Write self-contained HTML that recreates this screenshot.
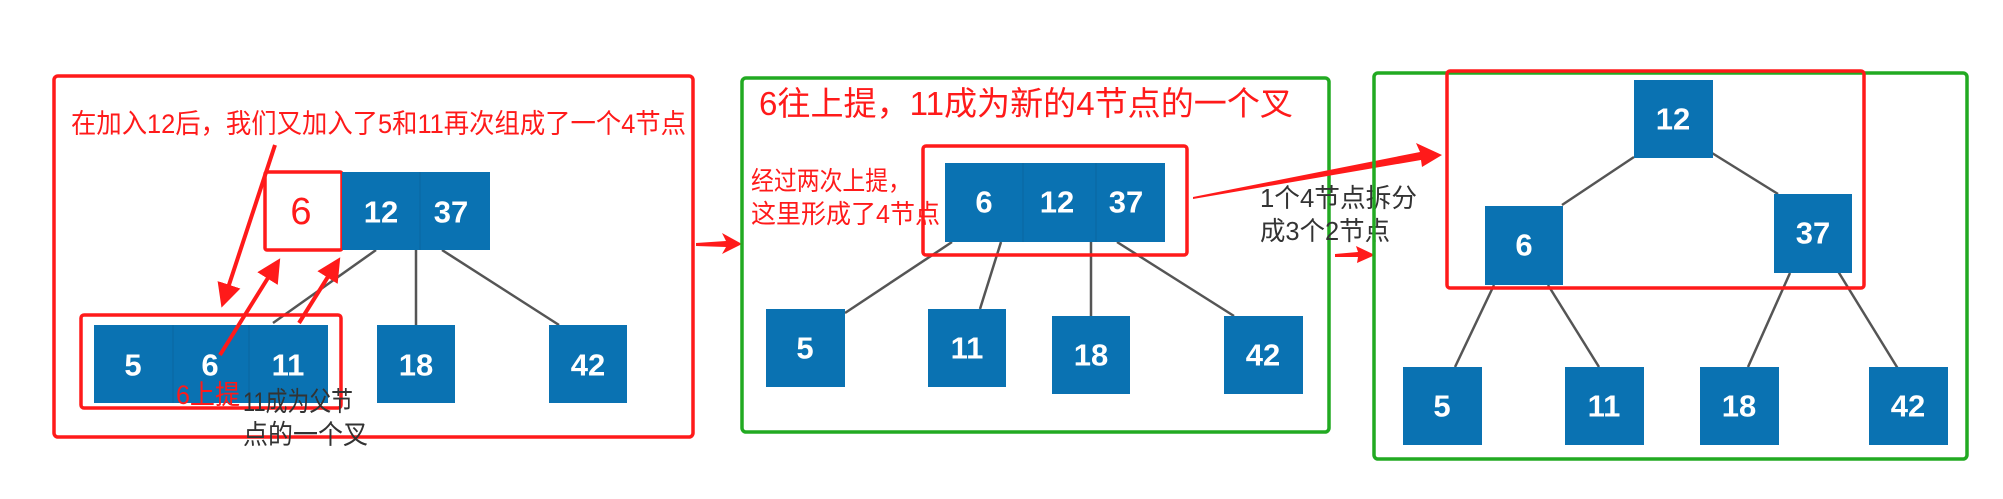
<!DOCTYPE html>
<html><head><meta charset="utf-8"><style>
html,body{margin:0;padding:0;background:#fff;}
svg{display:block;}
.n{fill:#0a72b2;}
.t{fill:#fff;font-family:"Liberation Sans",sans-serif;font-weight:bold;font-size:31px;text-anchor:middle;dominant-baseline:central;}
.ln{stroke:#555;stroke-width:2.5;fill:none;}
.cr{font-family:"Liberation Sans","Noto Sans CJK SC",sans-serif;fill:#ff1a1a;}
.cg{font-family:"Liberation Sans","Noto Sans CJK SC",sans-serif;fill:#333;}
</style></head><body>
<svg width="2003" height="499" viewBox="0 0 2003 499" xmlns="http://www.w3.org/2000/svg">
<defs><marker id="ah" markerWidth="6" markerHeight="6" refX="4" refY="3" orient="auto"><path d="M0,0 L6,3 L0,6 Z" fill="#ff1a1a"/></marker></defs>

<!-- Panel 1 -->
<rect x="54" y="76" width="639" height="361" rx="4" fill="none" stroke="#ff1a1a" stroke-width="3.5"/>
<text class="cr" x="71" y="133" font-size="27" textLength="615" lengthAdjust="spacingAndGlyphs">在加入12后，我们又加入了5和11再次组成了一个4节点</text>
<line class="ln" x1="376" y1="250" x2="273" y2="323"/>
<line class="ln" x1="416" y1="250" x2="416" y2="325"/>
<line class="ln" x1="442" y1="250" x2="559" y2="325"/>
<rect x="265" y="172" width="77" height="78" fill="#fff" stroke="#ff1a1a" stroke-width="3.5" rx="2"/>
<text x="301" y="212" font-family="Liberation Sans,sans-serif" font-size="38" fill="#ff1a1a" text-anchor="middle" dominant-baseline="central">6</text>
<rect class="n" x="342" y="172" width="148" height="78"/>
<line x1="420" y1="172" x2="420" y2="250" stroke="#0a66a0" stroke-width="1"/>
<text class="t" x="381" y="212">12</text><text class="t" x="451" y="212">37</text>
<rect class="n" x="94" y="325" width="234" height="78"/>
<line x1="173" y1="325" x2="173" y2="403" stroke="#0a66a0"/><line x1="249" y1="325" x2="249" y2="403" stroke="#0a66a0"/>
<text class="t" x="133" y="365">5</text><text class="t" x="210" y="365">6</text><text class="t" x="288" y="365">11</text>
<rect x="81" y="315" width="260" height="93" rx="3" fill="none" stroke="#ff1a1a" stroke-width="3.5"/>
<rect class="n" x="377" y="325" width="78" height="78"/><text class="t" x="416" y="365">18</text>
<rect class="n" x="549" y="325" width="78" height="78"/><text class="t" x="588" y="365">42</text>
<line x1="275" y1="145" x2="224" y2="300" stroke="#ff1a1a" stroke-width="4" marker-end="url(#ah)"/>
<line x1="220" y1="355" x2="276" y2="265" stroke="#ff1a1a" stroke-width="4" marker-end="url(#ah)"/>
<line x1="299" y1="323" x2="336" y2="264" stroke="#ff1a1a" stroke-width="4" marker-end="url(#ah)"/>
<text class="cr" x="176" y="404" font-size="27" textLength="64" lengthAdjust="spacingAndGlyphs">6上提</text>
<text class="cg" x="243" y="411" font-size="27" textLength="110" lengthAdjust="spacingAndGlyphs">11成为父节</text>
<text class="cg" x="243" y="444" font-size="27" textLength="125" lengthAdjust="spacingAndGlyphs">点的一个叉</text>
<!-- arrow 1->2 -->
<path d="M696,243 L726,241 L722,233 L742,244 L722,254 L726,247 L696,246 Z" fill="#ff1a1a"/>

<!-- Panel 2 -->
<rect x="742" y="78" width="587" height="354" rx="4" fill="none" stroke="#22aa22" stroke-width="3.5"/>
<text class="cr" x="759" y="115" font-size="33" textLength="534" lengthAdjust="spacingAndGlyphs">6往上提，11成为新的4节点的一个叉</text>
<text class="cr" x="751" y="190" font-size="26" textLength="160" lengthAdjust="spacingAndGlyphs">经过两次上提，</text>
<text class="cr" x="751" y="223" font-size="26" textLength="189" lengthAdjust="spacingAndGlyphs">这里形成了4节点</text>
<line class="ln" x1="952" y1="242" x2="845" y2="313"/>
<line class="ln" x1="1001" y1="242" x2="980" y2="309"/>
<line class="ln" x1="1091" y1="242" x2="1091" y2="316"/>
<line class="ln" x1="1117" y1="242" x2="1234" y2="316"/>
<rect class="n" x="945" y="163" width="220" height="79"/>
<line x1="1023" y1="163" x2="1023" y2="242" stroke="#0a66a0"/><line x1="1096" y1="163" x2="1096" y2="242" stroke="#0a66a0"/>
<text class="t" x="984" y="202">6</text><text class="t" x="1057" y="202">12</text><text class="t" x="1126" y="202">37</text>
<rect x="923" y="146" width="264" height="109" rx="3" fill="none" stroke="#ff1a1a" stroke-width="3.5"/>
<rect class="n" x="766" y="309" width="79" height="78"/><text class="t" x="805" y="348">5</text>
<rect class="n" x="928" y="309" width="78" height="78"/><text class="t" x="967" y="348">11</text>
<rect class="n" x="1052" y="316" width="78" height="78"/><text class="t" x="1091" y="355">18</text>
<rect class="n" x="1224" y="316" width="79" height="78"/><text class="t" x="1263" y="355">42</text>
<text class="cg" x="1260" y="207" font-size="26" textLength="157" lengthAdjust="spacingAndGlyphs">1个4节点拆分</text>
<text class="cg" x="1260" y="240" font-size="26" textLength="130" lengthAdjust="spacingAndGlyphs">成3个2节点</text>
<!-- arrows 2->3 -->
<path d="M1193,197 L1420,152 L1416,143 L1442,155 L1422,167 L1421,160 L1193,199 Z" fill="#ff1a1a"/>
<path d="M1335,254 L1358,252 L1356,246 L1375,255 L1357,263 L1358,257 L1335,257 Z" fill="#ff1a1a"/>

<!-- Panel 3 -->
<rect x="1374" y="73" width="593" height="386" rx="4" fill="none" stroke="#22aa22" stroke-width="3.5"/>
<line class="ln" x1="1634" y1="157" x2="1562" y2="205"/>
<line class="ln" x1="1712" y1="153" x2="1778" y2="194"/>
<line class="ln" x1="1494" y1="285" x2="1455" y2="367"/>
<line class="ln" x1="1548" y1="285" x2="1599" y2="367"/>
<line class="ln" x1="1790" y1="273" x2="1748" y2="367"/>
<line class="ln" x1="1836" y1="268" x2="1900" y2="372"/>
<rect class="n" x="1634" y="80" width="79" height="78"/><text class="t" x="1673" y="119">12</text>
<rect class="n" x="1485" y="206" width="78" height="79"/><text class="t" x="1524" y="245">6</text>
<rect class="n" x="1774" y="194" width="78" height="79"/><text class="t" x="1813" y="233">37</text>
<rect x="1447" y="71" width="417" height="217" rx="3" fill="none" stroke="#ff1a1a" stroke-width="3.5"/>
<rect class="n" x="1403" y="367" width="79" height="78"/><text class="t" x="1442" y="406">5</text>
<rect class="n" x="1565" y="367" width="79" height="78"/><text class="t" x="1604" y="406">11</text>
<rect class="n" x="1700" y="367" width="79" height="78"/><text class="t" x="1739" y="406">18</text>
<rect class="n" x="1869" y="367" width="79" height="78"/><text class="t" x="1908" y="406">42</text>
</svg>
</body></html>
